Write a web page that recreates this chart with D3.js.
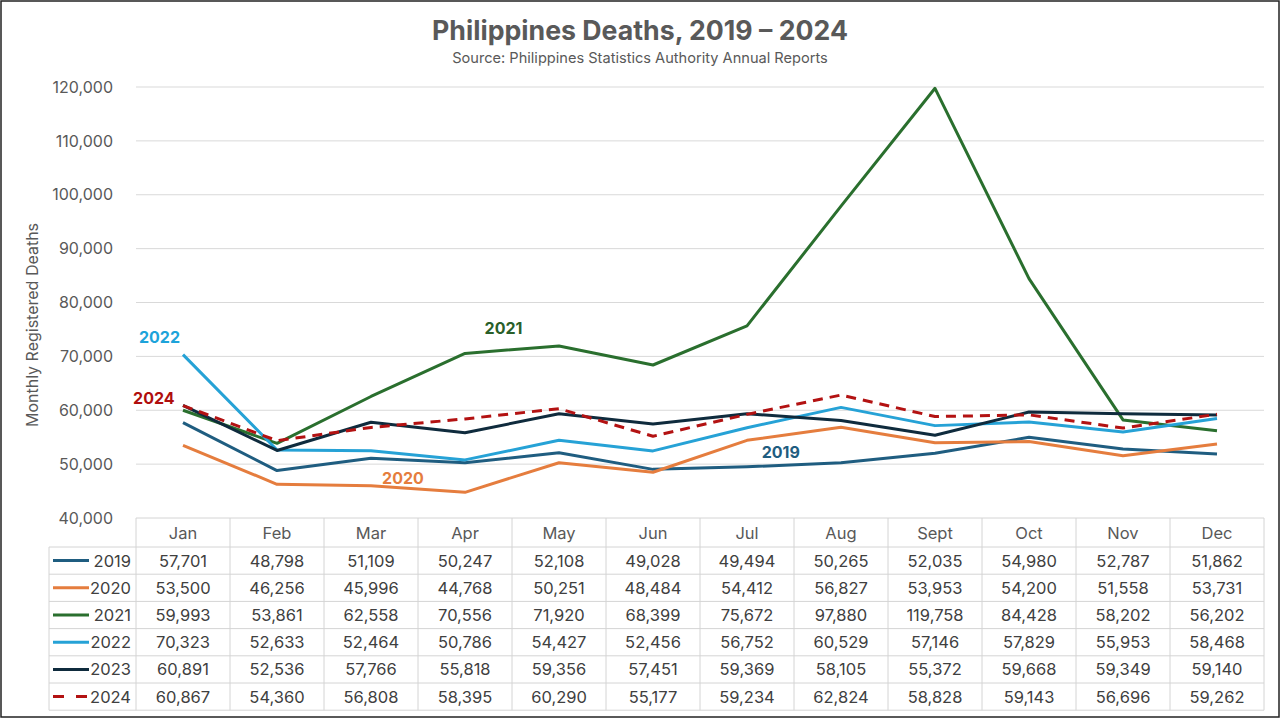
<!DOCTYPE html>
<html>
<head>
<meta charset="utf-8">
<script src="https://cdn.jsdelivr.net/npm/d3@7"></script>
<style>
  body { margin: 0; background: #fff; }
  svg { display: block; font-family: Inter, "Open Sans", sans-serif; }
</style>
</head>
<body>
<svg id="chart" width="1280" height="720"></svg>
<script>
const months = ["Jan", "Feb", "Mar", "Apr", "May", "Jun", "Jul", "Aug", "Sept", "Oct", "Nov", "Dec"];
const years = ["2019", "2020", "2021", "2022", "2023", "2024"];

const deaths2019 = [57701, 48798, 51109, 50247, 52108, 49028, 49494, 50265, 52035, 54980, 52787, 51862];
const deaths2020 = [53500, 46256, 45996, 44768, 50251, 48484, 54412, 56827, 53953, 54200, 51558, 53731];
const deaths2021 = [59993, 53861, 62558, 70556, 71920, 68399, 75672, 97880, 119758, 84428, 58202, 56202];
const deaths2022 = [70323, 52633, 52464, 50786, 54427, 52456, 56752, 60529, 57146, 57829, 55953, 58468];
const deaths2023 = [60891, 52536, 57766, 55818, 59356, 57451, 59369, 58105, 55372, 59668, 59349, 59140];
const deaths2024 = [60867, 54360, 56808, 58395, 60290, 55177, 59234, 62824, 58828, 59143, 56696, 59262];

const yTicks = [40000, 50000, 60000, 70000, 80000, 90000, 100000, 110000, 120000];

// label placement: month index + value where the year tag sits
const labelYears = ["2022", "2024", "2021", "2020", "2019"];
const labelMonth = [-0.25, -0.31, 3.41, 2.34, 6.36];
const labelValue = [73600, 62270, 75270, 47420, 52250];

const series = [
  { year: "2019", values: deaths2019, color: "#1f5d80", dash: null },
  { year: "2020", values: deaths2020, color: "#e57d3e", dash: null },
  { year: "2021", values: deaths2021, color: "#2a6f2e", dash: null },
  { year: "2022", values: deaths2022, color: "#26a2d6", dash: null },
  { year: "2023", values: deaths2023, color: "#0f2b3d", dash: null },
  { year: "2024", values: deaths2024, color: "#b31212", dash: "10,7" }
];
const labelColors = { "2019": "#1f5d80", "2020": "#e57d3e", "2021": "#2a5f2a", "2022": "#1da3da", "2024": "#b00e0e" };

const svg = d3.select("#chart");
const W = 1280, H = 720;
const plotLeft = 136, plotRight = 1264, plotTop = 87, plotBottom = 518;
const tableLeft = 49, headH = 29, rowH = 27.2;

svg.append("rect")
  .attr("x", 1).attr("y", 1).attr("width", W - 2).attr("height", H - 4)
  .attr("fill", "#fff").attr("stroke", "#222").attr("stroke-width", 1.5);

const x = d3.scaleBand().domain(months).range([plotLeft, plotRight]);
const y = d3.scaleLinear().domain([40000, 120000]).range([plotBottom, plotTop]);

// title
svg.append("text")
  .attr("x", 640).attr("y", 40)
  .attr("text-anchor", "middle")
  .attr("font-size", 26.7).attr("font-weight", 700).attr("fill", "#595959")
  .text("Philippines Deaths, 2019 – 2024");
svg.append("text")
  .attr("x", 640).attr("y", 63)
  .attr("text-anchor", "middle")
  .attr("font-size", 14.6).attr("fill", "#595959")
  .text("Source: Philippines Statistics Authority Annual Reports");

// gridlines
svg.append("g")
  .selectAll("line").data(yTicks.slice(1)).join("line")
  .attr("x1", plotLeft).attr("x2", plotRight)
  .attr("y1", d => y(d)).attr("y2", d => y(d))
  .attr("stroke", "#d9d9d9").attr("stroke-width", 1);

// y axis
const yAxis = svg.append("g")
  .attr("transform", `translate(${plotLeft - 20},0)`)
  .call(d3.axisLeft(y).tickValues(yTicks).tickFormat(d3.format(",")).tickSize(0));
yAxis.select(".domain").remove();
yAxis.selectAll("text")
  .attr("font-family", "Inter, 'Open Sans', sans-serif")
  .attr("font-size", 16).attr("fill", "#595959");

svg.append("text")
  .attr("transform", "translate(38,325) rotate(-90)")
  .attr("text-anchor", "middle")
  .attr("font-size", 16).attr("fill", "#595959")
  .text("Monthly Registered Deaths");

// lines
const line = d3.line()
  .x((d, i) => x(months[i]) + x.bandwidth() / 2)
  .y(d => y(d));

svg.append("g")
  .selectAll("path").data(series).join("path")
  .attr("d", d => line(d.values))
  .attr("fill", "none")
  .attr("stroke", d => d.color)
  .attr("stroke-width", 3)
  .attr("stroke-dasharray", d => d.dash)
  .attr("stroke-linejoin", "round");

// year tags
const step = x.step();
svg.append("g")
  .selectAll("text").data(labelYears).join("text")
  .attr("x", (d, i) => plotLeft + step / 2 + labelMonth[i] * step)
  .attr("y", (d, i) => y(labelValue[i]))
  .attr("dy", "0.36em")
  .attr("text-anchor", "middle")
  .attr("font-size", 16).attr("font-weight", 700)
  .attr("fill", d => labelColors[d])
  .text(d => d);

// data table
const table = svg.append("g");
const tableBottom = plotBottom + headH + rowH * series.length;
const gridColor = "#d4d4d4";

table.append("line")
  .attr("x1", plotLeft).attr("x2", plotRight).attr("y1", plotBottom).attr("y2", plotBottom)
  .attr("stroke", gridColor);
table.selectAll(".hline").data(d3.range(series.length + 1)).join("line")
  .attr("x1", tableLeft).attr("x2", plotRight)
  .attr("y1", i => plotBottom + headH + i * rowH)
  .attr("y2", i => plotBottom + headH + i * rowH)
  .attr("stroke", gridColor);
table.selectAll(".vline").data(d3.range(months.length + 1)).join("line")
  .attr("x1", i => plotLeft + i * step).attr("x2", i => plotLeft + i * step)
  .attr("y1", plotBottom).attr("y2", tableBottom)
  .attr("stroke", gridColor);
table.append("line")
  .attr("x1", tableLeft).attr("x2", tableLeft)
  .attr("y1", plotBottom + headH).attr("y2", tableBottom)
  .attr("stroke", gridColor);

table.selectAll(".month").data(months).join("text")
  .attr("x", d => x(d) + x.bandwidth() / 2)
  .attr("y", plotBottom + headH / 2 + 6)
  .attr("text-anchor", "middle")
  .attr("font-size", 16.5).attr("fill", "#595959")
  .text(d => d);

const rows = table.selectAll(".row").data(series).join("g")
  .attr("transform", (d, i) => `translate(0,${plotBottom + headH + i * rowH + rowH / 2})`);

rows.append("line")
  .attr("x1", tableLeft + 4).attr("x2", tableLeft + 40)
  .attr("y1", 0).attr("y2", 0)
  .attr("stroke", d => d.color).attr("stroke-width", 3)
  .attr("stroke-dasharray", d => d.dash ? "11,12" : null);
rows.append("text")
  .attr("x", plotLeft - 5).attr("y", 6)
  .attr("text-anchor", "end")
  .attr("font-size", 16.5).attr("fill", "#404040")
  .text(d => d.year);
rows.selectAll(".val").data(d => d.values).join("text")
  .attr("x", (d, i) => x(months[i]) + x.bandwidth() / 2)
  .attr("y", 6)
  .attr("text-anchor", "middle")
  .attr("font-size", 16.5).attr("fill", "#404040")
  .text(d => d3.format(",")(d));
</script>
</body>
</html>
